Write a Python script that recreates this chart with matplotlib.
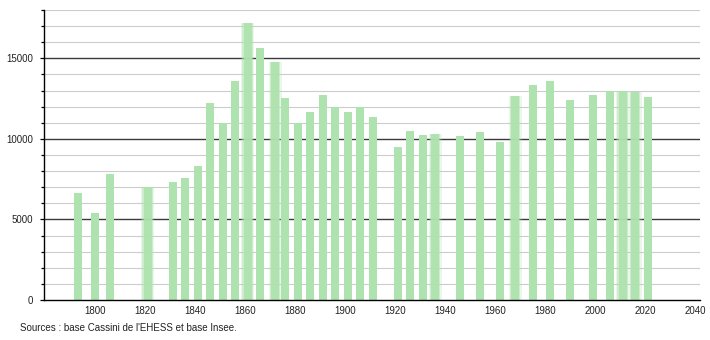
import matplotlib
matplotlib.use('Agg')
import matplotlib.pyplot as plt
from matplotlib.ticker import MultipleLocator
import numpy as np

# census years and population
years = [1793, 1800, 1806, 1821, 1831, 1836, 1841, 1846, 1851, 1856,
         1861, 1866, 1872, 1876, 1881, 1886, 1891, 1896, 1901, 1906,
         1911, 1921, 1926, 1931, 1936, 1946, 1954, 1962, 1968, 1975,
         1982, 1990, 1999, 2006, 2011, 2016, 2021]
population = [6650, 5400, 7850, 7000, 7330, 7560, 8330, 12200, 10990, 13570,
              17190, 15630, 14750, 12510, 10990, 11640, 12740, 11990, 11640, 11970,
              11330, 9500, 10490, 10220, 10330, 10160, 10410, 9830, 12680, 13320,
              13590, 12410, 12720, 12970, 12990, 12880, 12590]
# bars that appear with soft (blurred) edges in the original rendering
soft_years = [1821, 1861, 1872, 1936, 1968, 2011, 2016]

x_ticks = list(range(1800, 2041, 20))
source = "Sources : base Cassini de l'EHESS et base Insee."

BAR = '#aee2ae'
plt.rcParams['font.family'] = ['Liberation Sans', 'DejaVu Sans']

fig = plt.figure(figsize=(7.1, 3.4), dpi=100)
ax = fig.add_axes([0.062, 0.1176, 0.924, 0.853])

# grid: light every 1000, dark every 5000
for v in range(1000, 18001, 1000):
    major = v % 5000 == 0
    ax.axhline(v, color='#3a3a3a' if major else '#cccccc',
               lw=1.0 if major else 0.8, zorder=1)

w = 3.2
for yr, pop in zip(years, population):
    if yr in soft_years:
        for extra, a in [(2.0, 0.25), (1.0, 0.45), (0.0, 0.9)]:
            ax.bar(yr, pop, width=w + extra, color=BAR, alpha=a,
                   linewidth=0, zorder=2)
    else:
        ax.bar(yr, pop, width=w, color=BAR, linewidth=0, zorder=2)

ax.set_xlim(1779.6, 2042)
ax.set_ylim(0, 18000)

ax.set_xticks(x_ticks)
ax.tick_params(axis='x', length=0, pad=4, labelsize=7, colors='#222222')
ax.yaxis.set_major_locator(MultipleLocator(5000))
ax.yaxis.set_minor_locator(MultipleLocator(1000))
ax.tick_params(axis='y', which='major', length=3, width=0.9, pad=5, labelsize=7, colors='#222222')
ax.tick_params(axis='y', which='minor', length=2, width=0.9)
ax.tick_params(axis='y', which='both', color='black')

for s in ['top', 'right']:
    ax.spines[s].set_visible(False)
ax.spines['left'].set_linewidth(1.0)
ax.spines['bottom'].set_linewidth(1.0)

fig.text(20 / 710, 1 - 328 / 340, source, fontsize=7, color='#222222',
         ha='left', va='center')

fig.savefig('out.png', dpi=100)
